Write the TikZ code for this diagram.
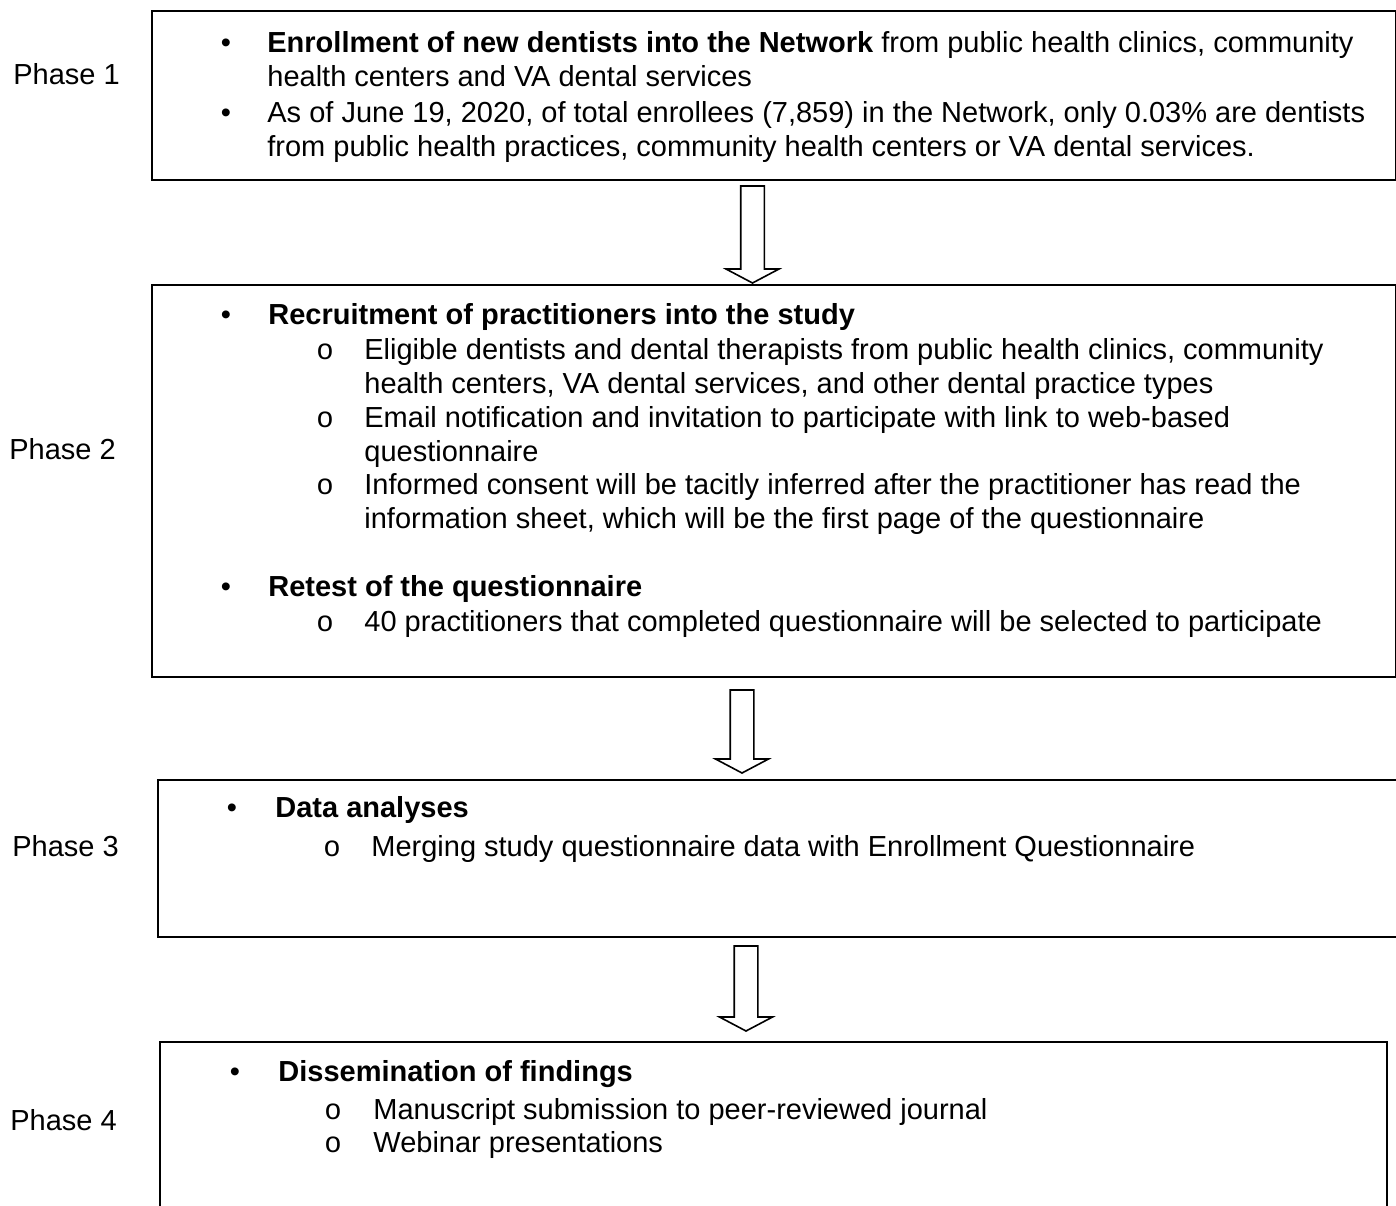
\documentclass[tikz,border=0pt]{standalone}
\usepackage{fontspec}
\setmainfont{Liberation Sans}
\newfontfamily\circfont{Liberation Mono}
\usetikzlibrary{calc,positioning}
\tikzset{
  phasebox/.style={draw,line width=1pt,anchor=north west,inner sep=0pt},
  itemtext/.style={anchor=base west,inner sep=0pt,align=left},
  bulletmark/.style={anchor=base,inner sep=0pt},
  hollowarrow/.style={draw,line width=0.8pt,fill=white,line join=miter},
}
\newcommand{\circmark}{{\circfont o}}
\newcommand{\blockarrow}[2]{%
  \draw[hollowarrow] let \p1=(#1), \p2=(#2) in
    (\x1-5.9pt,\y1) -- (\x1+5.9pt,\y1) -- (\x1+5.9pt,\y2+7pt) -- (\x1+13.25pt,\y2+7pt)
    -- (\x2,\y2) -- (\x1-13.25pt,\y2+7pt) -- (\x1-5.9pt,\y2+7pt) -- cycle;}
\begin{document}
\begin{tikzpicture}[x=0.5pt,y=-0.5pt,font=\fontsize{14.5}{17}\selectfont]
  \clip (0,0) rectangle (1396,1205);
  \fill[white] (0,0) rectangle (1396,1205);
  % boxes
  \node[phasebox,minimum width=622pt,minimum height=84.5pt] (box1) at (151,10) {};
  \node[phasebox,minimum width=622pt,minimum height=196pt] (box2) at (151,284) {};
  \node[phasebox,minimum width=630pt,minimum height=78.5pt] (box3) at (157,779) {};
  \node[phasebox,minimum width=613.5pt,minimum height=100pt] (box4) at (159,1041) {};
  % phase labels
  \node[itemtext] (ph1) at (13,84) {Phase 1};
  \node[itemtext] (ph2) at (9,459) {Phase 2};
  \node[itemtext] (ph3) at (12,856) {Phase 3};
  \node[itemtext] (ph4) at (10,1130) {Phase 4};
  % phase 1 (multi-line nodes sit on the baseline of their last line)
  \node[bulletmark] (b11) at (226,52) {\textbullet};
  \node[itemtext] (t11) at (267,86) {\textbf{Enrollment of new dentists into the Network} from public health clinics, community\\health centers and VA dental services};
  \node[bulletmark] (b12) at (226,122) {\textbullet};
  \node[itemtext] (t12) at (267,156) {As of June 19, 2020, of total enrollees (7,859) in the Network, only 0.03\% are dentists\\from public health practices, community health centers or VA dental services.};
  % phase 2
  \node[bulletmark] (b21) at (226,324) {\textbullet};
  \node[itemtext] (t21) at (268,324) {\textbf{Recruitment of practitioners into the study}};
  \node[bulletmark] (o21) at (325,359) {\circmark};
  \node[itemtext] (s21) at (364,393) {Eligible dentists and dental therapists from public health clinics, community\\health centers, VA dental services, and other dental practice types};
  \node[bulletmark] (o22) at (325,427) {\circmark};
  \node[itemtext] (s22) at (364,461) {Email notification and invitation to participate with link to web-based\\questionnaire};
  \node[bulletmark] (o23) at (325,494) {\circmark};
  \node[itemtext] (s23) at (364,528) {Informed consent will be tacitly inferred after the practitioner has read the\\information sheet, which will be the first page of the questionnaire};
  \node[bulletmark] (b22) at (226,596) {\textbullet};
  \node[itemtext] (t22) at (268,596) {\textbf{Retest of the questionnaire}};
  \node[bulletmark] (o24) at (325,631) {\circmark};
  \node[itemtext] (s24) at (364,631) {40 practitioners that completed questionnaire will be selected to participate};
  % phase 3
  \node[bulletmark] (b31) at (232,817) {\textbullet};
  \node[itemtext] (t31) at (275,817) {\textbf{Data analyses}};
  \node[bulletmark] (o31) at (332,856) {\circmark};
  \node[itemtext] (s31) at (371,856) {Merging study questionnaire data with Enrollment Questionnaire};
  % phase 4
  \node[bulletmark] (b41) at (235,1081) {\textbullet};
  \node[itemtext] (t41) at (278,1081) {\textbf{Dissemination of findings}};
  \node[bulletmark] (o41) at (333,1119) {\circmark};
  \node[itemtext] (s41) at (373,1119) {Manuscript submission to peer-reviewed journal};
  \node[bulletmark] (o42) at (333,1152) {\circmark};
  \node[itemtext] (s42) at (373,1152) {Webinar presentations};
  % arrows
  \coordinate (a1s) at ([xshift=-10.75pt,yshift=-2.5pt]box1.south);
  \coordinate (a1e) at ([xshift=-10.75pt,yshift=0.5pt]box2.north);
  \coordinate (a2s) at ([xshift=-16pt,yshift=-6pt]box2.south);
  \coordinate (a2e) at ([xshift=-23pt,yshift=3pt]box3.north);
  \coordinate (a3s) at ([xshift=-21pt,yshift=-4pt]box3.south);
  \coordinate (a3e) at ([xshift=-13.75pt,yshift=5pt]box4.north);
  \blockarrow{a1s}{a1e}
  \blockarrow{a2s}{a2e}
  \blockarrow{a3s}{a3e}
\end{tikzpicture}
\end{document}
